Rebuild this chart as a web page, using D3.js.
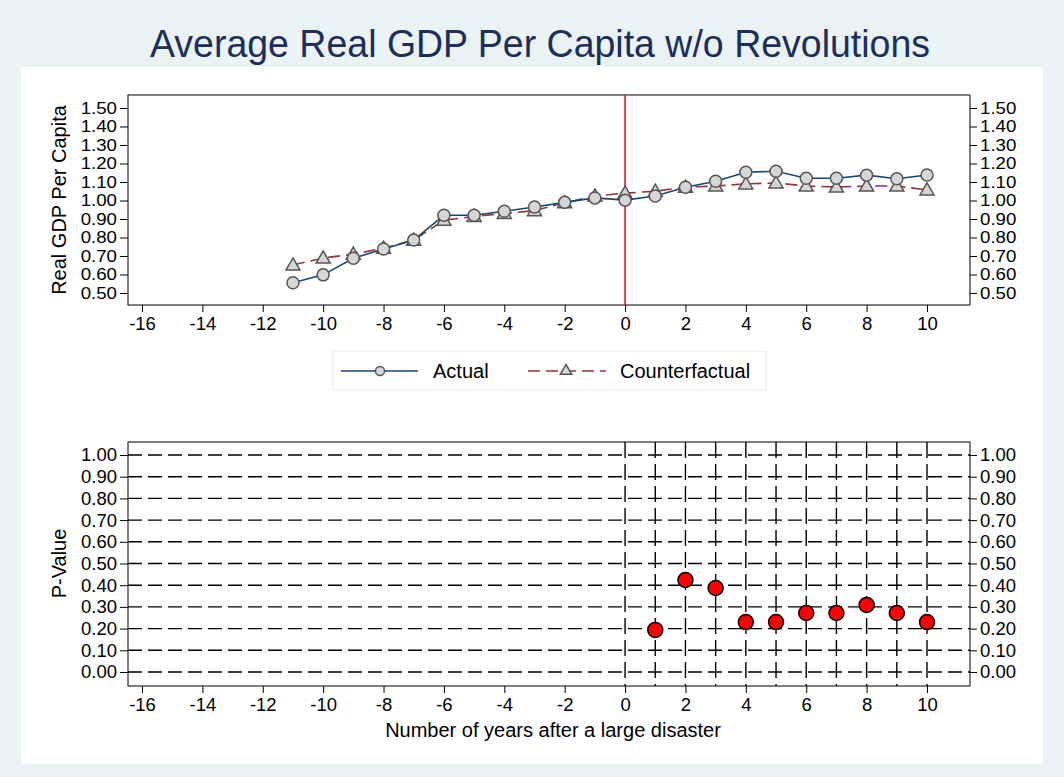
<!DOCTYPE html>
<html>
<head>
<meta charset="utf-8">
<script src="https://cdn.jsdelivr.net/npm/d3@7"></script>
<style>
  html, body { margin: 0; padding: 0; background: #EAF2F3; }
  svg { display: block; font-family: "Liberation Sans", Arial, sans-serif; }
</style>
</head>
<body>
<svg id="chart" width="1064" height="777"></svg>
<script>
// ---- data ----
const years = [-11,-10,-9,-8,-7,-6,-5,-4,-3,-2,-1,0,1,2,3,4,5,6,7,8,9,10];
const actual = [0.555,0.598,0.688,0.738,0.786,0.920,0.920,0.942,0.965,0.990,1.014,1.002,1.024,1.072,1.104,1.153,1.158,1.120,1.120,1.137,1.118,1.138];
const counterfactual = [0.651,0.689,0.710,0.742,0.786,0.893,0.914,0.930,0.945,0.988,1.024,1.040,1.050,1.072,1.078,1.090,1.095,1.078,1.073,1.078,1.078,1.057];
const pYears = [1,2,3,4,5,6,7,8,9,10];
const pValues = [0.194,0.424,0.387,0.230,0.230,0.272,0.272,0.309,0.272,0.230];
const xTicks = [-16,-14,-12,-10,-8,-6,-4,-2,0,2,4,6,8,10];
const yTopTicks = [0.5,0.6,0.7,0.8,0.9,1.0,1.1,1.2,1.3,1.4,1.5];
const yBotTicks = [0.0,0.1,0.2,0.3,0.4,0.5,0.6,0.7,0.8,0.9,1.0];
const gridYears = [0,1,2,3,4,5,6,7,8,9,10];
const titleText = "Average Real GDP Per Capita w/o Revolutions";
const seriesNames = ["Actual", "Counterfactual"];

// ---- layout ----
const svg = d3.select("#chart");
const L = 128, R = 970;
const topPlot = {t: 95, b: 305};
const botPlot = {t: 442, b: 686};

const x = d3.scaleLinear().domain([-16, 10]).range([142, 927]);
const yTop = d3.scaleLinear().domain([0.5, 1.5]).range([293, 108]);
const yBot = d3.scaleLinear().domain([0, 1]).range([672, 455]);

svg.append("rect").attr("x", 0).attr("y", 0).attr("width", 1064).attr("height", 777).attr("fill", "#EAF2F3");
svg.append("rect").attr("x", 21).attr("y", 67).attr("width", 1022).attr("height", 697).attr("fill", "#FFFFFF");

svg.append("text").attr("x", 540).attr("y", 57).attr("text-anchor", "middle")
  .attr("font-size", 38).attr("fill", "#1C2E5C")
  .attr("textLength", 780).attr("lengthAdjust", "spacingAndGlyphs")
  .text(titleText);

const fmt = d3.format(".2f");
const xfmt = d => String(d);
const FT = 20;

function styleAxis(fs, stretch) {
  return function(g) {
    g.select(".domain").remove();
    g.selectAll(".tick line").attr("stroke", "#000").attr("stroke-width", 1);
    g.selectAll(".tick text").attr("font-size", fs).attr("fill", "#000")
      .attr("font-family", "Liberation Sans, Arial, sans-serif")
      .each(function() {
        if (stretch !== 1) {
          const w = this.getComputedTextLength();
          d3.select(this).attr("textLength", w * stretch).attr("lengthAdjust", "spacingAndGlyphs");
        }
      });
  };
}

// ---- top panel ----
const gTop = svg.append("g");
gTop.append("rect").attr("x", L).attr("y", topPlot.t).attr("width", R - L).attr("height", topPlot.b - topPlot.t)
  .attr("fill", "#fff").attr("stroke", "#000").attr("stroke-width", 1);

gTop.append("g").attr("transform", `translate(${L},0)`)
  .call(d3.axisLeft(yTop).tickValues(yTopTicks).tickFormat(fmt).tickSize(8).tickPadding(3)).call(styleAxis(16.4, 1.14));
gTop.append("g").attr("transform", `translate(${R},0)`)
  .call(d3.axisRight(yTop).tickValues(yTopTicks).tickFormat(fmt).tickSize(7).tickPadding(3)).call(styleAxis(16.4, 1.14));
gTop.append("g").attr("transform", `translate(0,${topPlot.b})`)
  .call(d3.axisBottom(x).tickValues(xTicks).tickFormat(xfmt).tickSize(7).tickPadding(5)).call(styleAxis(18.5, 1));

gTop.append("text").attr("transform", `translate(66,${(topPlot.t + topPlot.b) / 2}) rotate(-90)`)
  .attr("text-anchor", "middle").attr("font-size", FT).text("Real GDP Per Capita");

// red reference line at 0
gTop.append("line").attr("x1", x(0)).attr("x2", x(0)).attr("y1", topPlot.t).attr("y2", topPlot.b)
  .attr("stroke", "#DC1437").attr("stroke-width", 1.6);

const colA = "#1A476F", colC = "#90353B";
const lineA = d3.line().x((d, i) => x(years[i])).y(d => yTop(d));
gTop.append("path").datum(counterfactual).attr("d", lineA).attr("fill", "none")
  .attr("stroke", colC).attr("stroke-width", 1.6).attr("stroke-dasharray", "12,6");
gTop.append("path").datum(actual).attr("d", lineA).attr("fill", "none")
  .attr("stroke", colA).attr("stroke-width", 1.6);

const tri = d3.symbol().type(d3.symbolTriangle).size(85);
gTop.selectAll(".tri").data(counterfactual).join("path")
  .attr("transform", (d, i) => `translate(${x(years[i])},${yTop(d) + 1})`)
  .attr("d", tri).attr("fill", "#D6D6D6").attr("stroke", "#555").attr("stroke-width", 1.5);
gTop.selectAll(".circ").data(actual).join("circle")
  .attr("cx", (d, i) => x(years[i])).attr("cy", d => yTop(d)).attr("r", 6)
  .attr("fill", "#D6D6D6").attr("stroke", "#555").attr("stroke-width", 1.5);

// legend
const lg = svg.append("g");
lg.append("rect").attr("x", 333).attr("y", 351).attr("width", 433).attr("height", 39)
  .attr("fill", "#fff").attr("stroke", "#E3ECEE").attr("stroke-width", 1);
lg.append("line").attr("x1", 341).attr("x2", 418).attr("y1", 371).attr("y2", 371).attr("stroke", colA).attr("stroke-width", 1.6);
lg.append("circle").attr("cx", 380).attr("cy", 371).attr("r", 4.5).attr("fill", "#D6D6D6").attr("stroke", "#555").attr("stroke-width", 1.5);
lg.append("text").attr("x", 433).attr("y", 378).attr("font-size", FT).text(seriesNames[0]);
lg.append("line").attr("x1", 528).attr("x2", 606).attr("y1", 371).attr("y2", 371).attr("stroke", colC).attr("stroke-width", 1.6).attr("stroke-dasharray", "12,6");
lg.append("path").attr("transform", "translate(566,371)").attr("d", d3.symbol().type(d3.symbolTriangle).size(55))
  .attr("fill", "#D6D6D6").attr("stroke", "#555").attr("stroke-width", 1.5);
lg.append("text").attr("x", 620).attr("y", 378).attr("font-size", FT).text(seriesNames[1]);

// ---- bottom panel ----
const gBot = svg.append("g");
gBot.append("rect").attr("x", L).attr("y", botPlot.t).attr("width", R - L).attr("height", botPlot.b - botPlot.t)
  .attr("fill", "#fff").attr("stroke", "#000").attr("stroke-width", 1);

gBot.selectAll(".hg").data(yBotTicks).join("line")
  .attr("x1", L).attr("x2", R).attr("y1", d => yBot(d)).attr("y2", d => yBot(d))
  .attr("stroke", "#000").attr("stroke-width", 1.4).attr("stroke-dasharray", "14,6");
gBot.selectAll(".vg").data(gridYears).join("line")
  .attr("x1", d => x(d)).attr("x2", d => x(d)).attr("y1", botPlot.t).attr("y2", botPlot.b)
  .attr("stroke", "#000").attr("stroke-width", 1.4).attr("stroke-dasharray", "16,6");

gBot.append("g").attr("transform", `translate(${L},0)`)
  .call(d3.axisLeft(yBot).tickValues(yBotTicks).tickFormat(fmt).tickSize(8).tickPadding(3)).call(styleAxis(18.5, 1));
gBot.append("g").attr("transform", `translate(${R},0)`)
  .call(d3.axisRight(yBot).tickValues(yBotTicks).tickFormat(fmt).tickSize(7).tickPadding(3)).call(styleAxis(18.5, 1));
gBot.append("g").attr("transform", `translate(0,${botPlot.b})`)
  .call(d3.axisBottom(x).tickValues(xTicks).tickFormat(xfmt).tickSize(7).tickPadding(5)).call(styleAxis(18.5, 1));

gBot.append("text").attr("transform", `translate(66,${yBot(0.5)}) rotate(-90)`)
  .attr("text-anchor", "middle").attr("font-size", FT).text("P-Value");
gBot.append("text").attr("x", 553).attr("y", 737).attr("text-anchor", "middle")
  .attr("font-size", FT).text("Number of years after a large disaster");

gBot.selectAll(".pv").data(pValues).join("circle")
  .attr("cx", (d, i) => x(pYears[i])).attr("cy", d => yBot(d)).attr("r", 7.5)
  .attr("fill", "#FF0000").attr("stroke", "#000").attr("stroke-width", 1.5);
</script>
</body>
</html>
